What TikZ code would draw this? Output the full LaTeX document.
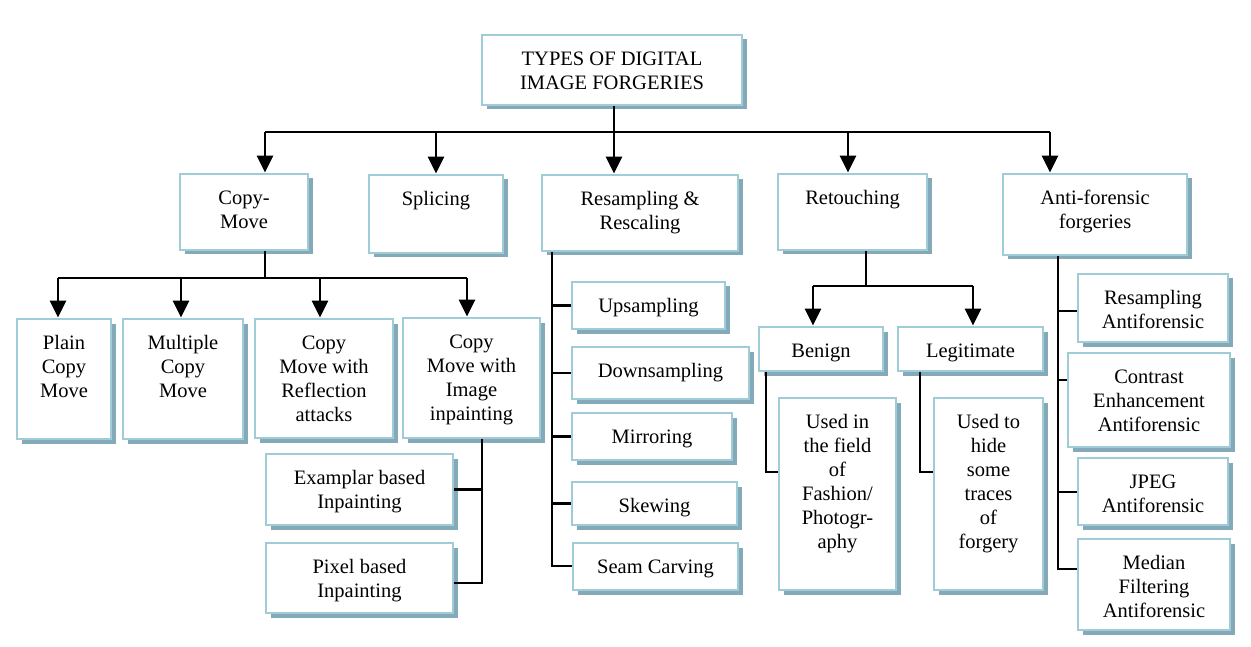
\documentclass[tikz,border=0pt]{standalone}
\usepackage{fontspec}
\setmainfont{Liberation Serif}
\usetikzlibrary{arrows.meta,shadows}
\definecolor{boxline}{RGB}{160,204,216}
\definecolor{boxshadow}{RGB}{132,170,186}
\tikzset{
  box/.style={draw=boxline, line width=2.8pt, fill=white, inner sep=0pt,
    drop shadow={shadow xshift=4.5pt, shadow yshift=-4.5pt, fill=boxshadow, opacity=1}},
  arr/.style={line width=2.8pt, -{Triangle[width=16pt,length=17pt]}},
  conn/.style={line width=2.5pt},
}
% \bx{name}{x1}{y1}{x2}{y2}{text}
\newcommand\bx[6]{%
  \node[box, anchor=center] (#1) at ({(#2+#4)/2},{(#3+#5)/2})
    {\parbox[c][\dimexpr#5pt-#3pt\relax][t]{\dimexpr#4pt-#2pt\relax}{\vspace*{13.5pt}\centering\strut #6\par}};}
\begin{document}
\begin{tikzpicture}[x=1pt,y=-1pt,font=\fontsize{20.5}{24}\selectfont]
\useasboundingbox (0,0) rectangle (1251,647);
% level 0
\bx{top}{482}{35}{742}{105}{TYPES OF DIGITAL\\IMAGE FORGERIES}
% level 1
\bx{cm}{180}{174}{308}{250}{Copy-\\Move}
\bx{spl}{369}{175}{503}{253}{Splicing}
\bx{res}{542}{175}{738}{251}{Resampling \&\\Rescaling}
\bx{ret}{778}{174}{927}{250}{Retouching}
\bx{anti}{1003}{174}{1187}{255}{Anti-forensic\\forgeries}
% copy-move children
\bx{pcm}{17}{319}{111}{439}{Plain\\Copy\\Move}
\bx{mcm}{123}{319}{243}{439}{Multiple\\Copy\\Move}
\bx{cmr}{255}{319}{393}{438}{Copy\\Move with\\Reflection\\attacks}
\bx{cmi}{403}{318}{540}{438}{Copy\\Move with\\Image\\inpainting}
\bx{exa}{266}{454}{453}{525}{Examplar based\\Inpainting}
\bx{pix}{266}{543}{453}{613}{Pixel based\\Inpainting}
% resampling children
\bx{up}{572}{282}{725}{329}{Upsampling}
\bx{down}{572}{347}{749}{399}{Downsampling}
\bx{mir}{572}{413}{732}{460}{Mirroring}
\bx{skew}{572}{482}{737}{525}{Skewing}
\bx{seam}{573}{543}{738}{590}{Seam Carving}
% retouching children
\bx{ben}{759}{327}{883}{371}{Benign}
\bx{leg}{898}{327}{1043}{371}{Legitimate}
\bx{usedin}{779}{398}{896}{590}{Used in\\the field\\of\\Fashion/\\Photogr-\\aphy}
\bx{usedto}{934}{398}{1043}{590}{Used to\\hide\\some\\traces\\of\\forgery}
% anti-forensic children
\bx{raf}{1078}{274}{1228}{342}{Resampling\\Antiforensic}
\bx{caf}{1068}{353}{1230}{447}{Contrast\\Enhancement\\Antiforensic}
\bx{jaf}{1078}{458}{1228}{525}{JPEG\\Antiforensic}
\bx{maf}{1078}{539}{1230}{630}{Median\\Filtering\\Antiforensic}

% ---- top bus
\coordinate (b0) at (614,132);
\coordinate (b0L) at (265,132);
\coordinate (b0R) at (1050,132);
\draw[conn] (top.south -| b0) -- (b0);
\draw[conn] (b0L) -- (b0R);
\draw[arr] (b0L) -- (b0L |- cm.north);
\coordinate (a2) at (436,132);
\draw[arr] (a2) -- (a2 |- spl.north);
\draw[arr] (b0) -- (b0 |- res.north);
\coordinate (a4) at (848,132);
\draw[arr] (a4) -- (a4 |- ret.north);
\draw[arr] (b0R) -- (b0R |- anti.north);

% ---- copy-move bus
\coordinate (b1) at (265,278);
\coordinate (b1L) at (58,278);
\coordinate (b1R) at (467,278);
\draw[conn] (b1 |- cm.south) -- (b1);
\draw[conn] (b1L) -- (b1R);
\draw[arr] (b1L) -- (b1L |- pcm.north);
\coordinate (c2) at (181,278);
\draw[arr] (c2) -- (c2 |- mcm.north);
\coordinate (c3) at (320,278);
\draw[arr] (c3) -- (c3 |- cmr.north);
\draw[arr] (b1R) -- (b1R |- cmi.north);

% ---- inpainting bracket
\coordinate (ip) at (482,583);
\draw[conn] (ip |- cmi.south) -- (ip) -- (pix.east |- ip);
\draw[conn] (ip |- exa.east) -- (exa.east);

% ---- resampling bracket
\coordinate (rs) at (552,566);
\draw[conn] (rs |- res.south) -- (rs) -- (seam.west |- rs);
\draw[conn] (rs |- up.west) -- (up.west);
\draw[conn] (rs |- down.west) -- (down.west);
\draw[conn] (rs |- mir.west) -- (mir.west);
\draw[conn] (rs |- skew.west) -- (skew.west);

% ---- retouching bus
\coordinate (b2) at (866,286);
\coordinate (b2L) at (813,286);
\coordinate (b2R) at (973,286);
\draw[conn] (b2 |- ret.south) -- (b2);
\draw[conn] (b2L) -- (b2R);
\draw[arr] (b2L) -- (b2L |- ben.north);
\draw[arr] (b2R) -- (b2R |- leg.north);
\coordinate (bn) at (766,472);
\draw[conn] (bn |- ben.south) -- (bn) -- (usedin.west |- bn);
\coordinate (lg) at (920,472);
\draw[conn] (lg |- leg.south) -- (lg) -- (usedto.west |- lg);

% ---- anti-forensic bracket
\coordinate (af) at (1058,569);
\draw[conn] (af |- anti.south) -- (af) -- (maf.west |- af);
\coordinate (af1) at (1058,311);
\draw[conn] (af1) -- (raf.west |- af1);
\coordinate (af2) at (1058,380);
\draw[conn] (af2) -- (caf.west |- af2);
\coordinate (af3) at (1058,492);
\draw[conn] (af3) -- (jaf.west |- af3);
\end{tikzpicture}
\end{document}
